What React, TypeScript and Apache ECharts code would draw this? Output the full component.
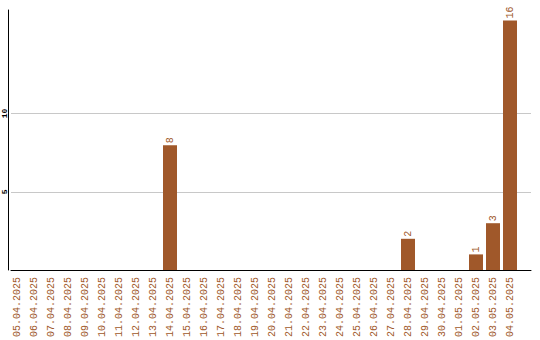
import React, { useEffect, useRef } from "react";
import * as echarts from "echarts";

const dates: string[] = [
  "05.04.2025", "06.04.2025", "07.04.2025", "08.04.2025", "09.04.2025",
  "10.04.2025", "11.04.2025", "12.04.2025", "13.04.2025", "14.04.2025",
  "15.04.2025", "16.04.2025", "17.04.2025", "18.04.2025", "19.04.2025",
  "20.04.2025", "21.04.2025", "22.04.2025", "23.04.2025", "24.04.2025",
  "25.04.2025", "26.04.2025", "27.04.2025", "28.04.2025", "29.04.2025",
  "30.04.2025", "01.05.2025", "02.05.2025", "03.05.2025", "04.05.2025",
];

const counts: number[] = [
  0, 0, 0, 0, 0, 0, 0, 0, 0, 8,
  0, 0, 0, 0, 0, 0, 0, 0, 0, 0,
  0, 0, 0, 2, 0, 0, 0, 1, 3, 16,
];

const BROWN = "#a0582a";
const FONT = "Liberation Mono";

export default function App() {
  const ref = useRef<HTMLDivElement>(null);

  useEffect(() => {
    if (!ref.current) return;
    const chart = echarts.init(ref.current, null, { renderer: "svg" });
    chart.setOption({
      animation: false,
      backgroundColor: "#ffffff",
      grid: [
        // frame: gridlines, y labels and the bottom axis line
        { left: 10, right: 9, top: 113.5, bottom: 70, containLabel: false },
        // bars and date labels
        { left: 8.5, width: 510, top: 10, bottom: 70, containLabel: false },
      ],
      xAxis: [
        {
          gridIndex: 0,
          type: "category",
          data: [""],
          axisLine: { show: true, lineStyle: { color: "#000", width: 1 } },
          axisTick: { show: false },
          axisLabel: { show: false },
          splitLine: { show: false },
        },
        {
          gridIndex: 1,
          type: "category",
          data: dates,
          axisLine: { show: false },
          axisTick: { show: false },
          axisLabel: {
            interval: 0,
            rotate: 90,
            margin: 7,
            color: BROWN,
            fontFamily: FONT,
            fontSize: 10,
          },
        },
      ],
      yAxis: [
        {
          gridIndex: 0,
          type: "value",
          min: 0,
          max: 10,
          interval: 5,
          axisLine: { show: false },
          axisTick: { show: false },
          axisLabel: {
            showMinLabel: false,
            rotate: 90,
            margin: 3,
            color: "#000",
            fontFamily: FONT,
            fontWeight: "bold",
            fontSize: 8,
          },
          splitLine: { show: true, lineStyle: { color: "#c8c8c8", width: 1 } },
        },
        {
          gridIndex: 1,
          type: "value",
          min: 0,
          max: 16.67,
          axisLine: { show: true, lineStyle: { color: "#000", width: 1 } },
          axisTick: { show: false },
          axisLabel: { show: false },
          splitLine: { show: false },
        },
      ],
      series: [
        {
          type: "bar",
          xAxisIndex: 1,
          yAxisIndex: 1,
          data: counts,
          barWidth: 14,
          itemStyle: { color: BROWN },
          label: {
            show: true,
            position: "top",
            rotate: 90,
            align: "left",
            verticalAlign: "middle",
            distance: 2,
            color: BROWN,
            fontFamily: FONT,
            fontSize: 10,
            formatter: (p: any) => (p.value > 0 ? String(p.value) : ""),
          },
        },
      ],
    });
    return () => chart.dispose();
  }, []);

  return (
    <div
      ref={ref}
      style={{ position: "fixed", left: 0, top: 0, width: 540, height: 340 }}
    />
  );
}
